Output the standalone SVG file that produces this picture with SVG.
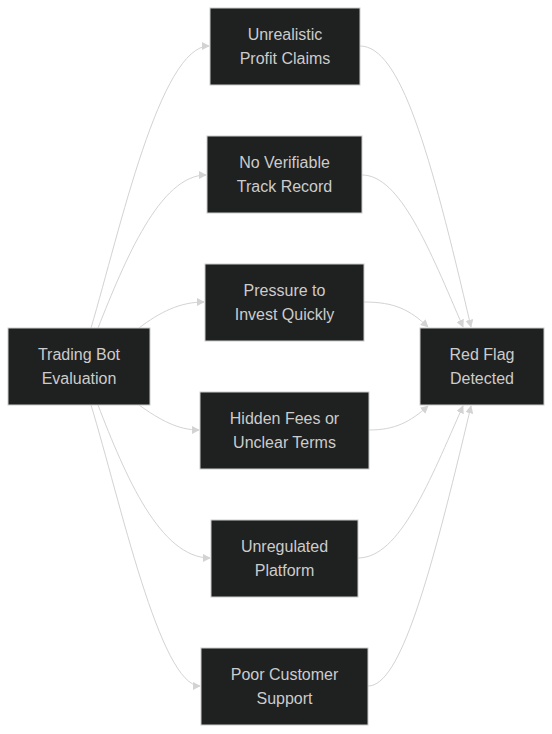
<svg xmlns="http://www.w3.org/2000/svg" width="552" height="734" viewBox="0 0 552 734">
<style>
.n rect{fill:#1f2020;stroke:#cccccc;stroke-width:1}
.n text{fill:#cccccc;font-family:"Liberation Sans",Arial,sans-serif;font-size:16px;text-anchor:middle}
.e path{fill:none;stroke:#d3d3d3;stroke-width:1}
</style>
<defs>
<marker id="ah" viewBox="0 0 10 10" refX="9" refY="5" markerWidth="8" markerHeight="8" orient="auto" markerUnits="userSpaceOnUse">
<path d="M0,0 L10,5 L0,10 z" fill="#d3d3d3"/>
</marker>
</defs>
<rect width="552" height="734" fill="#ffffff"/>
<g id="connectors" class="e">
<path d="M91,328 C120,230 160,46 209,46" marker-end="url(#ah)"/>
<path d="M98,328 C125,260 160,175 206,175" marker-end="url(#ah)"/>
<path d="M139,328 C160,312 180,302 204,302" marker-end="url(#ah)"/>
<path d="M139,405 C160,420 178,430 199,430" marker-end="url(#ah)"/>
<path d="M98,405 C125,475 160,558 210,558" marker-end="url(#ah)"/>
<path d="M91,405 C120,500 160,686 200,686" marker-end="url(#ah)"/>
<path d="M360,46 C400,46 430,150 471,327" marker-end="url(#ah)"/>
<path d="M362,175 C400,175 430,250 463,327" marker-end="url(#ah)"/>
<path d="M364,302 C395,302 410,310 428,327" marker-end="url(#ah)"/>
<path d="M369,430 C395,430 410,422 428,406" marker-end="url(#ah)"/>
<path d="M358,558 C400,558 430,480 463,406" marker-end="url(#ah)"/>
<path d="M368,686 C400,686 430,580 471,406" marker-end="url(#ah)"/>
</g>
<g id="start" class="n"><rect x="8" y="328" width="142" height="77"/><text x="79" y="360">Trading Bot</text><text x="79" y="384">Evaluation</text></g>
<g id="unrealistic" class="n"><rect x="210" y="8" width="150" height="77"/><text x="285" y="40">Unrealistic</text><text x="285" y="64">Profit Claims</text></g>
<g id="track" class="n"><rect x="207" y="136" width="155" height="77"/><text x="284.5" y="168">No Verifiable</text><text x="284.5" y="192">Track Record</text></g>
<g id="pressure" class="n"><rect x="205" y="264" width="159" height="77"/><text x="284.5" y="296">Pressure to</text><text x="284.5" y="320">Invest Quickly</text></g>
<g id="fees" class="n"><rect x="200" y="392" width="169" height="77"/><text x="284.5" y="424">Hidden Fees or</text><text x="284.5" y="448">Unclear Terms</text></g>
<g id="unregulated" class="n"><rect x="211" y="520" width="147" height="77"/><text x="284.5" y="552">Unregulated</text><text x="284.5" y="576">Platform</text></g>
<g id="support" class="n"><rect x="201" y="648" width="167" height="77"/><text x="284.5" y="680">Poor Customer</text><text x="284.5" y="704">Support</text></g>
<g id="redflag" class="n"><rect x="420" y="328" width="124" height="77"/><text x="482" y="360">Red Flag</text><text x="482" y="384">Detected</text></g>
</svg>
